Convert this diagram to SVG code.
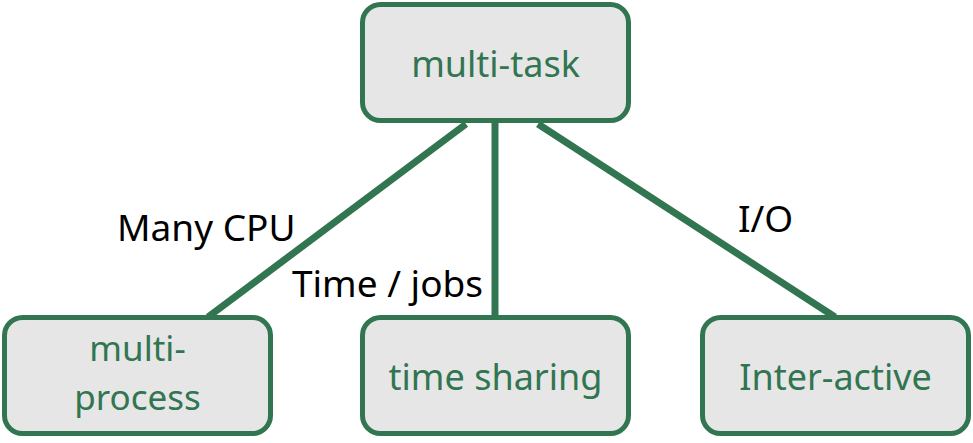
<svg xmlns="http://www.w3.org/2000/svg" width="973" height="443" viewBox="0 0 973 443">
<style>
.node rect{fill:#E6E6E6;stroke:#317551;stroke-width:5}
.node text{font-family:"Noto Sans","Open Sans",sans-serif;font-size:36px;fill:#317551;text-anchor:middle}
.lbl{font-family:"Noto Sans","Open Sans",sans-serif;font-size:37px;fill:#000}
#connectors line{stroke:#317551;stroke-width:7}
</style>
<rect width="973" height="443" fill="#fff"/>
<g id="connectors">
<line x1="466" y1="124" x2="208" y2="317"/>
<line x1="495" y1="122" x2="495" y2="317"/>
<line x1="538" y1="124" x2="835" y2="317"/>
</g>
<g id="n-multitask" class="node">
<rect x="362.5" y="4.5" width="266" height="116" rx="18"/>
<text x="495.5" y="77">multi-task</text>
</g>
<g id="n-multiprocess" class="node">
<rect x="4.5" y="317.5" width="266" height="116" rx="18"/>
<text x="137.5" y="361" style="font-size:35px">multi-</text>
<text x="137.5" y="410" style="font-size:35px">process</text>
</g>
<g id="n-timesharing" class="node">
<rect x="362.5" y="317.5" width="266" height="116" rx="18"/>
<text x="495.5" y="390">time sharing</text>
</g>
<g id="n-interactive" class="node">
<rect x="702.5" y="317.5" width="266" height="116" rx="18"/>
<text x="835.5" y="390">Inter-active</text>
</g>
<text class="lbl" x="117" y="241">Many CPU</text>
<text class="lbl" x="292" y="297">Time / jobs</text>
<text class="lbl" x="738" y="232">I/O</text>
</svg>
